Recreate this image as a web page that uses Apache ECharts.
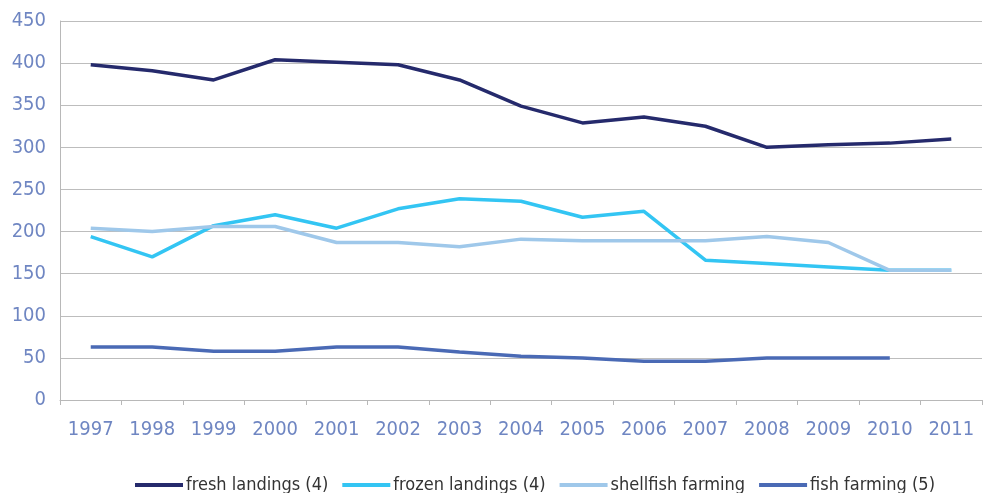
<!DOCTYPE html>
<html>
<head>
<meta charset="utf-8">
<script src="https://cdn.jsdelivr.net/npm/echarts@6/dist/echarts.min.js"></script>
<style>
  html, body { margin: 0; padding: 0; background: #fff; }
  #chart { width: 988px; height: 493px; }
</style>
</head>
<body>
<div id="chart"></div>
<script>
  const years = ['1997', '1998', '1999', '2000', '2001', '2002', '2003', '2004', '2005', '2006', '2007', '2008', '2009', '2010', '2011']
  const freshLandings = [398, 391, 380, 404, 401, 398, 380, 349, 329, 336, 325, 300, 303, 305, 310]
  const frozenLandings = [194, 170, 207, 220, 204, 227, 239, 236, 217, 224, 166, 162, 158, 154, 154]
  const shellfishFarming = [204, 200, 206, 206, 187, 187, 182, 191, 189, 189, 189, 194, 187, 154, 154]
  const fishFarming = [63, 63, 58, 58, 63, 63, 57, 52, 50, 46, 46, 50, 50, 50, null]

  const labelColor = '#6f86c2'
  const font = '"Liberation Sans Narrow", "DejaVu Sans Condensed", sans-serif'

  function line(name, data, color) {
    return {
      name: name,
      type: 'line',
      data: data,
      symbol: 'none',
      lineStyle: { color: color, width: 3.5 },
      itemStyle: { color: color },
      animation: false
    }
  }

  const chart = echarts.init(document.getElementById('chart'))
  chart.setOption({
    grid: { left: 60, right: 6, top: 21, bottom: 93 },
    legend: {
      bottom: -6,
      left: 130,
      icon: 'rect',
      itemWidth: 48,
      itemHeight: 4,
      itemGap: 14,
      textStyle: { color: '#333', fontSize: 18, fontFamily: font, padding: [0, 0, 0, -2] }
    },
    xAxis: {
      type: 'category',
      data: years,
      boundaryGap: true,
      axisLine: { lineStyle: { color: '#b8b8b8' } },
      axisTick: { show: true, length: 5, lineStyle: { color: '#b8b8b8' } },
      axisLabel: { color: labelColor, fontSize: 20, fontFamily: font, margin: 20 }
    },
    yAxis: {
      type: 'value',
      min: 0,
      max: 450,
      interval: 50,
      axisLine: { show: true, lineStyle: { color: '#b8b8b8' } },
      axisTick: { show: false },
      splitLine: { lineStyle: { color: '#bdbdbd' } },
      axisLabel: { color: labelColor, fontSize: 20, fontFamily: font, margin: 14 }
    },
    series: [
      line('fresh landings (4)', freshLandings, '#252a6c'),
      line('frozen landings (4)', frozenLandings, '#33c5f3'),
      line('shellfish farming', shellfishFarming, '#9fc8ea'),
      line('fish farming (5)', fishFarming, '#4a6ab5')
    ]
  })
</script>
</body>
</html>
